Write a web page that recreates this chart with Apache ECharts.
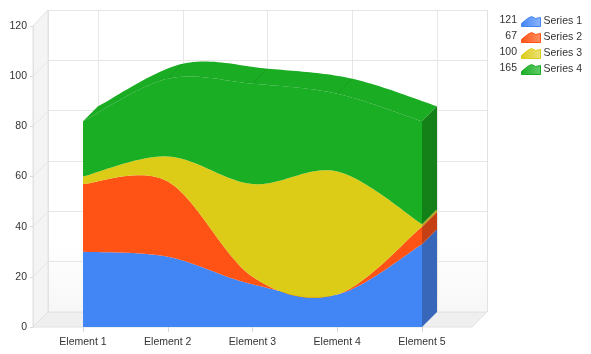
<!DOCTYPE html>
<html>
<head>
<meta charset="utf-8">
<style>
  html, body { margin: 0; padding: 0; background: #fff; }
  #chart { width: 591px; height: 354px; }
</style>
<script src="https://cdn.jsdelivr.net/npm/echarts@6/dist/echarts.min.js"></script>
</head>
<body>
<div id="chart"></div>
<script>
const categories = ['Element 1', 'Element 2', 'Element 3', 'Element 4', 'Element 5'];
const seriesNames = ['Series 1', 'Series 2', 'Series 3', 'Series 4'];
const series1 = [30, 28, 17, 13, 33];
const series2 = [27, 30, 3, 0, 7];
const series3 = [3, 10, 37, 49, 1];
const series4 = [22, 31, 40, 31, 41];
const legendValues = [121, 67, 100, 165];
const yTicks = [0, 20, 40, 60, 80, 100, 120];

const frontColors = ['#4285f4', '#ff5214', '#dccc18', '#1aad24'];
// 面有一点透明,让网格线隐约透出,颜色压暗一点抵消
const bandColors = ['#3c81f4', '#ff4d0d', '#dbca11', '#13ab1d'];
const sideColors = ['#3866b8', '#c43f12', '#b5a81a', '#148018'];
const legendLight = ['#8fb5fb', '#ff9067', '#ece27a', '#62cc6a'];
const DEPTH = 15;
const FONT = '"Liberation Sans", Arial, sans-serif';

const values = [series1, series2, series3, series4];

// 堆叠后的累计值,stacks[0] 是基线
const stacks = [categories.map(() => 0)];
values.forEach((v, s) => {
  stacks.push(v.map((n, i) => stacks[s][i] + n));
});
const last = categories.length - 1;

// 图例图标
const legendIcon = 'path://M0 10 L0 7 L6 2 L10 0 L14 2 L19 1 L19 10 Z';

// 把折线点变成平滑曲线(Catmull-Rom),参考图的曲线会越过数据点
function spline(pts) {
  const out = [];
  for (let i = 0; i < pts.length - 1; i++) {
    const p0 = pts[Math.max(i - 1, 0)];
    const p1 = pts[i];
    const p2 = pts[i + 1];
    const p3 = pts[Math.min(i + 2, pts.length - 1)];
    for (let k = 0; k < 24; k++) {
      const t = k / 24;
      const t2 = t * t;
      const t3 = t2 * t;
      const h = d => 0.5 * (2 * p1[d] + (p2[d] - p0[d]) * t
        + (2 * p0[d] - 5 * p1[d] + 4 * p2[d] - p3[d]) * t2
        + (3 * p1[d] - p0[d] - 3 * p2[d] + p3[d]) * t3);
      out.push([h(0), h(1)]);
    }
  }
  out.push(pts[pts.length - 1]);
  return out;
}

function curveOf(api, stack) {
  return spline(stack.map((n, i) => api.coord([i, n])));
}

// 每个系列一块面,只在第一个数据项时画整块
function bandItem(s) {
  return (params, api) => {
    if (params.dataIndex !== 0) return null;
    const upper = curveOf(api, stacks[s + 1]);
    const lower = curveOf(api, stacks[s]);
    return {
      type: 'polygon',
      shape: { points: upper.concat(lower.reverse()) },
      style: { fill: bandColors[s], opacity: 0.97 }
    };
  };
}

// 顶面
function topItem(params, api) {
  if (params.dataIndex !== 0) return null;
  const front = curveOf(api, stacks[4]);
  const back = front.map(p => [p[0] + DEPTH, p[1] - DEPTH]);
  const children = [{
    type: 'polygon',
    shape: { points: front.concat(back.reverse()) },
    style: { fill: frontColors[3] }
  }, {
    type: 'polyline',
    shape: { points: front },
    style: { fill: 'none', stroke: 'rgba(0,0,0,0.05)', lineWidth: 1 }
  }];
  stacks[4].forEach((n, i) => {
    if (i === 0 || i === last) return;
    const p = api.coord([i, n]);
    children.push({
      type: 'line',
      shape: { x1: p[0], y1: p[1], x2: p[0] + DEPTH, y2: p[1] - DEPTH },
      style: { stroke: 'rgba(0,0,0,0.1)', lineWidth: 1 }
    });
  });
  return { type: 'group', children };
}

// 右侧面
function sideItem(params, api) {
  const s = params.dataIndex;
  const a = api.coord([last, stacks[s][last]]);
  const b = api.coord([last, stacks[s + 1][last]]);
  return {
    type: 'polygon',
    shape: { points: [a, b, [b[0] + DEPTH, b[1] - DEPTH], [a[0] + DEPTH, a[1] - DEPTH]] },
    style: { fill: sideColors[s] }
  };
}

const chart = echarts.init(document.getElementById('chart'));

const option = {
  animation: false,
  backgroundColor: '#fff',
  textStyle: { fontFamily: FONT },
  graphic: [
    {
      type: 'rect', z: -10, silent: true,
      shape: { x: 48, y: 240, width: 439, height: 72 },
      style: { fill: new echarts.graphic.LinearGradient(0, 0, 0, 1, [
        { offset: 0, color: '#ffffff' }, { offset: 1, color: '#f7f7f7' }
      ]) }
    },
    {
      type: 'polygon', z: -10, silent: true,
      shape: { points: [[33, 26], [48, 10], [48, 312], [33, 327]] },
      style: { fill: '#f4f4f4', stroke: '#e2e2e2' }
    },
    {
      type: 'polygon', z: -10, silent: true,
      shape: { points: [[33, 327], [48, 312], [487, 312], [472, 327]] },
      style: { fill: '#efefef', stroke: '#e2e2e2' }
    },
    ...yTicks.slice(1, -1).map(t => {
      const y = 327 - t * 301 / 120;
      return {
        type: 'line', z: -9, silent: true,
        shape: { x1: 33, y1: y, x2: 48, y2: y - 15 },
        style: { stroke: '#e6e6e6', lineWidth: 1 }
      };
    }),
    ...legendValues.map((v, i) => ({
      type: 'text', z: 10, silent: true,
      x: 517, y: 20 + i * 16,
      style: {
        text: String(v), align: 'right', verticalAlign: 'middle',
        fontSize: 10.5, fontFamily: FONT, fill: '#333'
      }
    }))
  ],
  legend: {
    orient: 'vertical',
    left: 521,
    top: 16,
    padding: 0,
    itemWidth: 19,
    itemHeight: 10,
    itemGap: 5,
    selectedMode: false,
    textStyle: { fontSize: 10.5, color: '#333', padding: [0, 0, 0, -2] },
    data: seriesNames.map((name, i) => ({
      name,
      icon: legendIcon,
      itemStyle: {
        color: new echarts.graphic.LinearGradient(0, 0, 1, 0, [
          { offset: 0, color: frontColors[i] }, { offset: 1, color: legendLight[i] }
        ]),
        borderColor: frontColors[i],
        borderWidth: 1
      }
    }))
  },
  grid: [
    { left: 83, width: 339, top: 26, height: 301 },
    { left: 98, width: 339, top: 10, height: 302 },
    { left: 48, width: 439, top: 10, height: 302 }
  ],
  xAxis: [
    {
      type: 'category', gridIndex: 0, data: categories, boundaryGap: false,
      axisLine: { show: false },
      axisTick: { show: true, length: 5, lineStyle: { color: '#d8d8d8' } },
      axisLabel: { color: '#333', fontSize: 10.5, margin: 10, showMinLabel: true, showMaxLabel: true },
      splitLine: { show: false }
    },
    {
      type: 'category', gridIndex: 1, data: categories, boundaryGap: false,
      axisLine: { show: false }, axisTick: { show: false }, axisLabel: { show: false },
      splitLine: { show: true, lineStyle: { color: '#e6e6e6' } }
    },
    {
      type: 'value', gridIndex: 2, min: 0, max: 1, interval: 1,
      axisLine: { show: false }, axisTick: { show: false }, axisLabel: { show: false },
      splitLine: { show: true, lineStyle: { color: '#e2e2e2' } }
    }
  ],
  yAxis: [
    {
      type: 'value', gridIndex: 0, min: 0, max: 120, interval: 20, offset: 50,
      axisLine: { show: true, lineStyle: { color: '#e2e2e2' } },
      axisTick: { show: true, length: 3, lineStyle: { color: '#d8d8d8' } },
      axisLabel: { color: '#333', fontSize: 10.5, margin: 6 },
      splitLine: { show: false }
    },
    {
      type: 'value', gridIndex: 1, min: 0, max: 120, interval: 20,
      axisLine: { show: false }, axisTick: { show: false }, axisLabel: { show: false },
      splitLine: { show: false }
    },
    {
      type: 'value', gridIndex: 2, min: 0, max: 120, interval: 20,
      axisLine: { show: false }, axisTick: { show: false }, axisLabel: { show: false },
      splitLine: { show: true, lineStyle: { color: '#e6e6e6' } }
    }
  ],
  series: [
    {
      type: 'custom', xAxisIndex: 0, yAxisIndex: 0, z: 3, silent: true,
      data: series4.map((n, i) => [i, stacks[4][i]]), renderItem: topItem
    },
    {
      type: 'custom', xAxisIndex: 0, yAxisIndex: 0, z: 3, silent: true,
      data: values.map((v, s) => [last, stacks[s + 1][last]]), renderItem: sideItem
    },
    ...values.map((v, s) => ({
      name: seriesNames[s],
      type: 'custom', xAxisIndex: 0, yAxisIndex: 0, z: 5, silent: true,
      itemStyle: { color: frontColors[s] },
      data: v.map((n, i) => [i, stacks[s + 1][i]]),
      renderItem: bandItem(s)
    }))
  ]
};

chart.setOption(option);
window.addEventListener('resize', () => chart.resize());
</script>
</body>
</html>
